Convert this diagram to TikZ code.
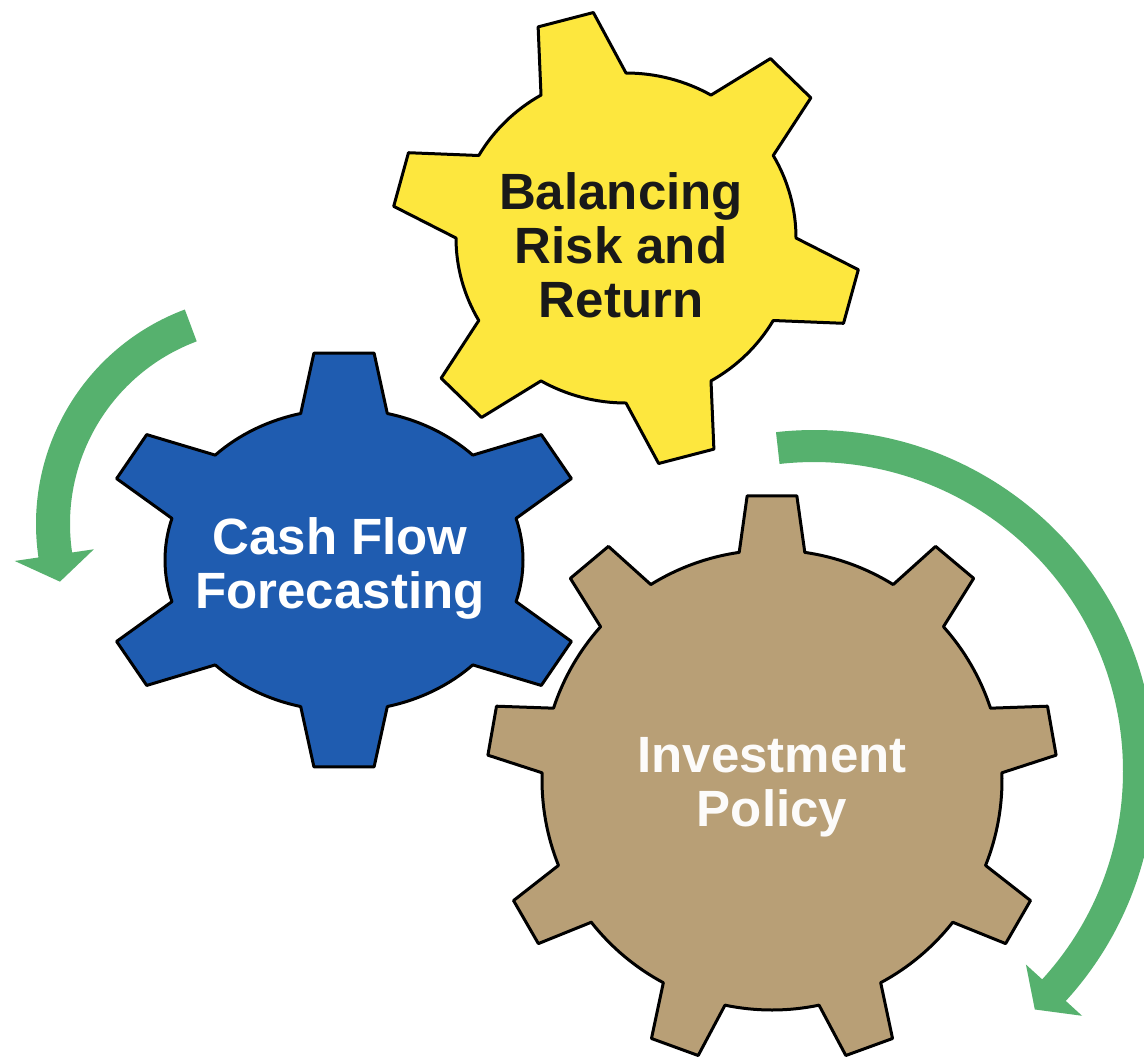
\documentclass[tikz,border=0pt]{standalone}
\usepackage{fontspec}
\setmainfont{Liberation Sans}
\definecolor{gyellow}{RGB}{253,231,62}
\definecolor{gblue}{RGB}{31,92,176}
\definecolor{gbrown}{RGB}{184,159,118}
\definecolor{agreen}{RGB}{86,177,110}
\newcommand\drawgear[6]{%
  \pgfmathsetmacro\gstep{360/#2}%
  \pgfmathtruncatemacro\glast{#2-1}%
  \path[#1] ({#3-#4}:1) \foreach \k [evaluate=\k as \gt using {#3+\k*\gstep}] in {0,...,\glast} {
    -- ({\gt-#4}:1) -- ({\gt-#5}:#6) -- ({\gt+#5}:#6) -- ({\gt+#4}:1)
    arc[start angle={\gt+#4}, end angle={\gt+\gstep-#4}, radius=1] } -- cycle;
}
\tikzset{
  gearline/.style={draw=black, line width=1.5pt, line join=round},
  gtext/.style={font=\bfseries\fontsize{25.5}{27}\selectfont, align=center, inner sep=0pt},
  arrowfill/.style={fill=agreen, draw=none}
}
\begin{document}
\begin{tikzpicture}[x=0.5pt, y=-0.5pt]
\clip (0,0) rectangle (1144,1056);
\fill[white] (0,0) rectangle (1144,1056);
% yellow gear
\begin{scope}[shift={(626,238)}, xscale=170, yscale=165]
  \drawgear{gearline, fill=gyellow}{6}{-105}{15}{7}{1.38}
\end{scope}
% blue gear
\begin{scope}[shift={(344,560)}, xscale=179, yscale=151]
  \drawgear{gearline, fill=gblue}{6}{-90}{14}{7}{1.38}
\end{scope}
% brown gear
\begin{scope}[shift={(772,780)}, xscale=230, yscale=230]
  \drawgear{gearline, fill=gbrown}{9}{-90}{8.2}{5}{1.24}
\end{scope}
% left arrow
\begin{scope}[shift={(265,524)}]
  \fill[arrowfill] (249.5:229) arc[start angle=249.5, end angle=171.6, radius=229]
    -- (171.6:253) -- (164.3:213) -- (171.6:173) -- (171.6:195)
    arc[start angle=171.6, end angle=249.5, radius=195] -- cycle;
\end{scope}
% right arrow
\begin{scope}[shift={(814,771)}]
  \fill[arrowfill] (-96.4:341) arc[start angle=-96.4, end angle=42.4, radius=341]
    -- (42.4:363) -- (47.2:325) -- (42.4:287) -- (42.4:309)
    arc[start angle=42.4, end angle=-96.4, radius=309] -- cycle;
\end{scope}
% labels
\node[gtext, text=black!90] (balance) at (621,245) {Balancing\\Risk and\\Return};
\node[gtext, text=white] (cashflow) at (340,568) {Cash Flow\\Forecasting};
\node[gtext, text=white!96!gbrown] (policy) at (772,787) {Investment\\Policy};
\end{tikzpicture}
\end{document}
